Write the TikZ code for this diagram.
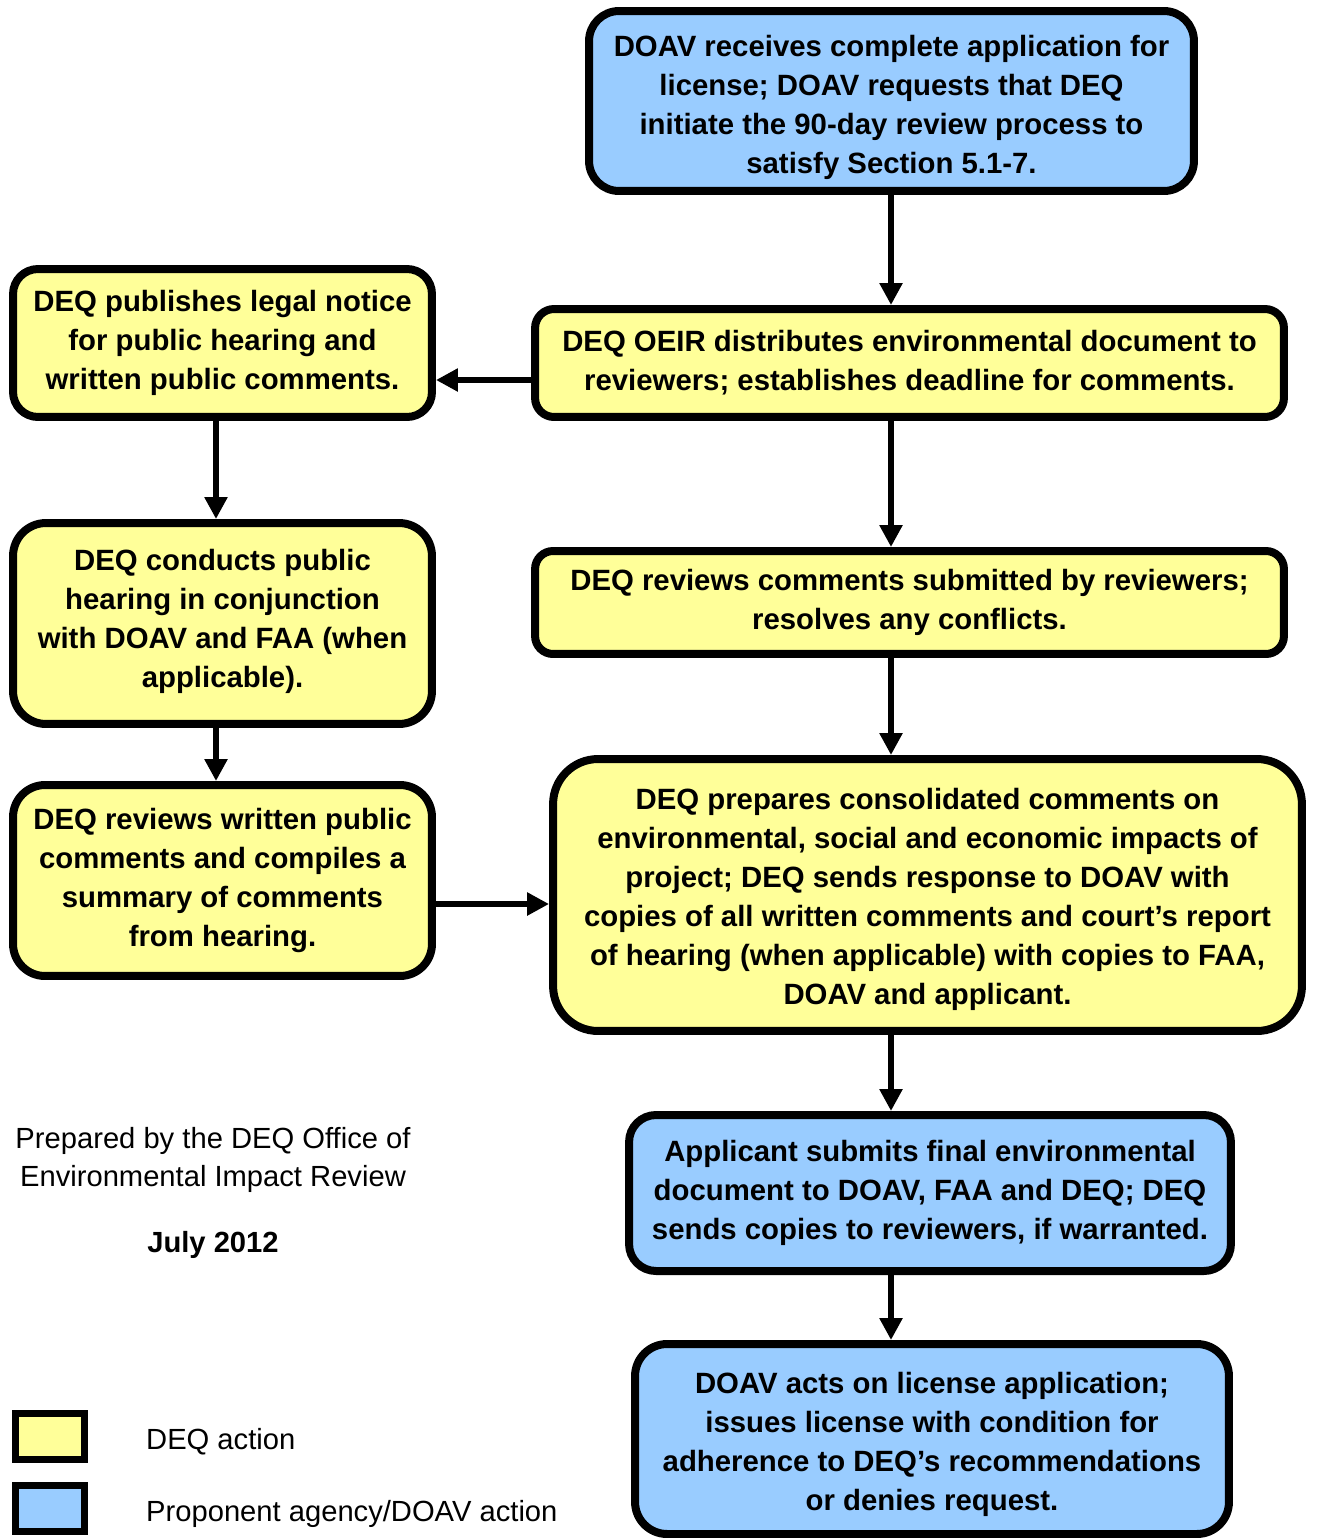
\documentclass[tikz,border=0pt]{standalone}
\usepackage{fontspec}
\setmainfont{Liberation Sans}
\usetikzlibrary{arrows.meta}
\definecolor{deqyellow}{HTML}{FFFF99}
\definecolor{doavblue}{HTML}{99CCFF}
\begin{document}
\begin{tikzpicture}[x=0.02cm, y=-0.02cm,
    actbox/.style={draw, line width=0.16cm, align=center, inner sep=0pt,
        font=\fontsize{16.7}{22.2}\selectfont\bfseries},
    deq/.style={actbox, fill=deqyellow},
    doav/.style={actbox, fill=doavblue},
    flow/.style={line width=0.12cm, -{Triangle[length=0.44cm,width=0.44cm]}},
    keybox/.style={draw, line width=0.14cm, minimum width=1.4cm, minimum height=0.92cm},
    note/.style={font=\fontsize{16.6}{21.6}\selectfont, align=center}]
    \useasboundingbox (0,0) rectangle (1316,1538);

    % Right column
    \node[doav, minimum width=12.1cm, minimum height=3.6cm, rounded corners=0.6cm] (receives) at (891.5,101)
        {\rule{0pt}{19pt}DOAV receives complete application for\\ license; DOAV requests that DEQ\\ initiate the 90-day review process to\\ satisfy Section 5.1-7.};
    \node[deq, minimum width=14.98cm, minimum height=2.16cm, rounded corners=0.38cm] (distributes) at (909.5,363)
        {DEQ OEIR distributes environmental document to\\ reviewers; establishes deadline for comments.};
    \node[deq, minimum width=14.98cm, minimum height=2.06cm, rounded corners=0.36cm] (resolves) at (909.5,602.5)
        {DEQ reviews comments submitted by reviewers;\\ resolves any conflicts.};
    \node[deq, minimum width=14.98cm, minimum height=5.44cm, rounded corners=0.9cm] (prepares) at (927.5,895)
        {\rule{0pt}{16.7pt}DEQ prepares consolidated comments on\\ environmental, social and economic impacts of\\ project; DEQ sends response to DOAV with\\ copies of all written comments and court's report\\ of hearing (when applicable) with copies to FAA,\\ DOAV and applicant.};
    \node[doav, minimum width=12.04cm, minimum height=3.12cm, rounded corners=0.54cm] (submits) at (930,1193)
        {Applicant submits final environmental\\ document to DOAV, FAA and DEQ; DEQ\\ sends copies to reviewers, if warranted.};
    \node[doav, minimum width=11.88cm, minimum height=3.8cm, rounded corners=0.64cm] (acts) at (932,1439)
        {\rule{0pt}{17.9pt}DOAV acts on license application;\\ issues license with condition for\\ adherence to DEQ's recommendations\\ or denies request.};

    % Left column
    \node[deq, minimum width=8.38cm, minimum height=2.96cm, rounded corners=0.5cm] (notice) at (222.5,343)
        {DEQ publishes legal notice\\ for public hearing and\\ written public comments.};
    \node[deq, minimum width=8.38cm, minimum height=4.02cm, rounded corners=0.66cm] (hearing) at (222.5,623.5)
        {DEQ conducts public\\ hearing in conjunction\\ with DOAV and FAA (when\\ applicable).\rule[-6pt]{0pt}{0pt}};
    \node[deq, minimum width=8.38cm, minimum height=3.82cm, rounded corners=0.64cm] (summary) at (222.5,880.5)
        {DEQ reviews written public\\ comments and compiles a\\ summary of comments\\ from hearing.};

    % Connectors
    \coordinate (rspine) at (891,0);
    \coordinate (lspine) at (216,0);
    \coordinate (row1) at (0,380);
    \coordinate (row2) at (0,904);
    \draw[flow] (receives.south -| rspine) -- (distributes.north -| rspine);
    \draw[flow] (distributes.south -| rspine) -- (resolves.north -| rspine);
    \draw[flow] (resolves.south -| rspine) -- (prepares.north -| rspine);
    \draw[flow] (prepares.south -| rspine) -- (submits.north -| rspine);
    \draw[flow] (submits.south -| rspine) -- (acts.north -| rspine);
    \draw[flow] (distributes.west |- row1) -- (notice.east |- row1);
    \draw[flow] (notice.south -| lspine) -- (hearing.north -| lspine);
    \draw[flow] (hearing.south -| lspine) -- (summary.north -| lspine);
    \draw[flow] (summary.east |- row2) -- (prepares.west |- row2);

    % Notes and legend
    \node[note] (prepared) at (213,1160) {Prepared by the DEQ Office of\\ Environmental Impact Review};
    \node[note, font=\fontsize{16.6}{21.6}\selectfont\bfseries] (date) at (213,1245) {July 2012};
    \node[keybox, fill=deqyellow] (keydeq) at (50,1436.5) {};
    \node[keybox, fill=doavblue] (keydoav) at (50,1508) {};
    \node[note, anchor=west] (keydeqtext) at (140,1442) {DEQ action};
    \node[note, anchor=west] (keydoavtext) at (140,1514) {Proponent agency/DOAV action};
\end{tikzpicture}
\end{document}
